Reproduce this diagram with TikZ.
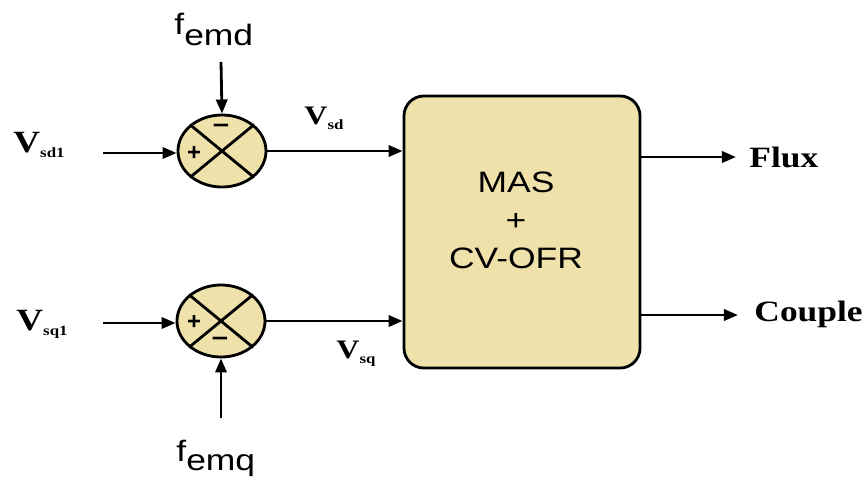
\documentclass[tikz,border=0pt]{standalone}
\usepackage{fontspec}
\setmainfont{Liberation Serif}
\setsansfont{Liberation Sans}
\usetikzlibrary{arrows.meta,shapes.geometric}
\definecolor{blockfill}{HTML}{EEE1AA}
\newcommand{\widetext}[1]{\scalebox{1.2}[1]{#1}}
\begin{document}
\begin{tikzpicture}[x=0.025cm,y=-0.025cm,line width=2pt,
  >={Triangle[length=10pt,width=8pt]},
  sumnode/.style={ellipse,draw,fill=blockfill,minimum width=2.2cm,minimum height=1.8cm,inner sep=0pt},
  signtext/.style={font=\sffamily\bfseries\fontsize{17}{17}\selectfont,inner sep=0pt},
  vlabel/.style={font=\bfseries\fontsize{22}{24}\selectfont,inner sep=0pt,anchor=base west},
  vlabelsmall/.style={font=\bfseries\fontsize{19}{22}\selectfont,inner sep=0pt,anchor=base west},
  flabel/.style={font=\sffamily\fontsize{21}{24}\selectfont,inner sep=0pt,anchor=base west},
  outlabel/.style={font=\bfseries\fontsize{21}{24}\selectfont,inner sep=0pt,anchor=base west}]
\useasboundingbox (0,0) rectangle (868,482);
\node[sumnode] (S1) at (222,151) {};
\node[sumnode] (S2) at (221,321) {};
\draw (S1.north west) -- (S1.south east);
\draw (S1.north east) -- (S1.south west);
\draw (S2.north west) -- (S2.south east);
\draw (S2.north east) -- (S2.south west);
\node[signtext] (S1plus) at (194,153) {+};
\node[signtext] (S1minus) at (221,129) {\widetext{−}};
\node[signtext] (S2plus) at (194,322) {+};
\node[signtext] (S2minus) at (220,342) {\widetext{−}};
\node[draw,fill=blockfill,rounded corners=0.5cm,minimum width=5.9cm,minimum height=6.8cm] (B) at (522,232) {};
\node[font=\sffamily\fontsize{21}{27}\selectfont,align=center] (Btext) at (516,220) {\widetext{MAS}\\\widetext{+}\\\widetext{CV-OFR}};
\node[vlabel] (vsd1) at (12,152) {\widetext{V\raisebox{-4pt}{\fontsize{10}{10}\selectfont sd1}}};
\node[vlabel] (vsq1) at (15,330) {\widetext{V\raisebox{-4pt}{\fontsize{10}{10}\selectfont sq1}}};
\node[vlabelsmall] (vsd) at (303,124) {\widetext{V\raisebox{-4pt}{\fontsize{10}{10}\selectfont sd}}};
\node[vlabelsmall] (vsq) at (335,358) {\widetext{V\raisebox{-4pt}{\fontsize{10}{10}\selectfont sq}}};
\node[flabel] (femd) at (173,34) {\widetext{f\raisebox{-8pt}{emd}}};
\node[flabel] (femq) at (175,461) {\widetext{f\raisebox{-7pt}{emq}}};
\node[outlabel] (flux) at (748,167) {\widetext{Flux}};
\node[outlabel] (couple) at (753,321) {\widetext{Couple}};
\coordinate (vsd1end) at (103,153);
\coordinate (vsq1end) at (103,323);
\coordinate (femdend) at (221,62);
\coordinate (femqend) at (221,418);
\coordinate (fluxend) at (736,157);
\coordinate (coupleend) at (738,315);
\draw[->] (vsd1end) -- (vsd1end -| S1.west);
\draw[->] (vsq1end) -- (vsq1end -| S2.west);
\draw[->] (femdend) -- (S1.north);
\draw[->] (femqend) -- (S2.south);
\draw[->] (S1.east) -- (S1.east -| B.west);
\draw[->] (S2.east) -- (S2.east -| B.west);
\draw[->] (fluxend -| B.east) -- (fluxend);
\draw[->] (coupleend -| B.east) -- (coupleend);
\end{tikzpicture}
\end{document}
